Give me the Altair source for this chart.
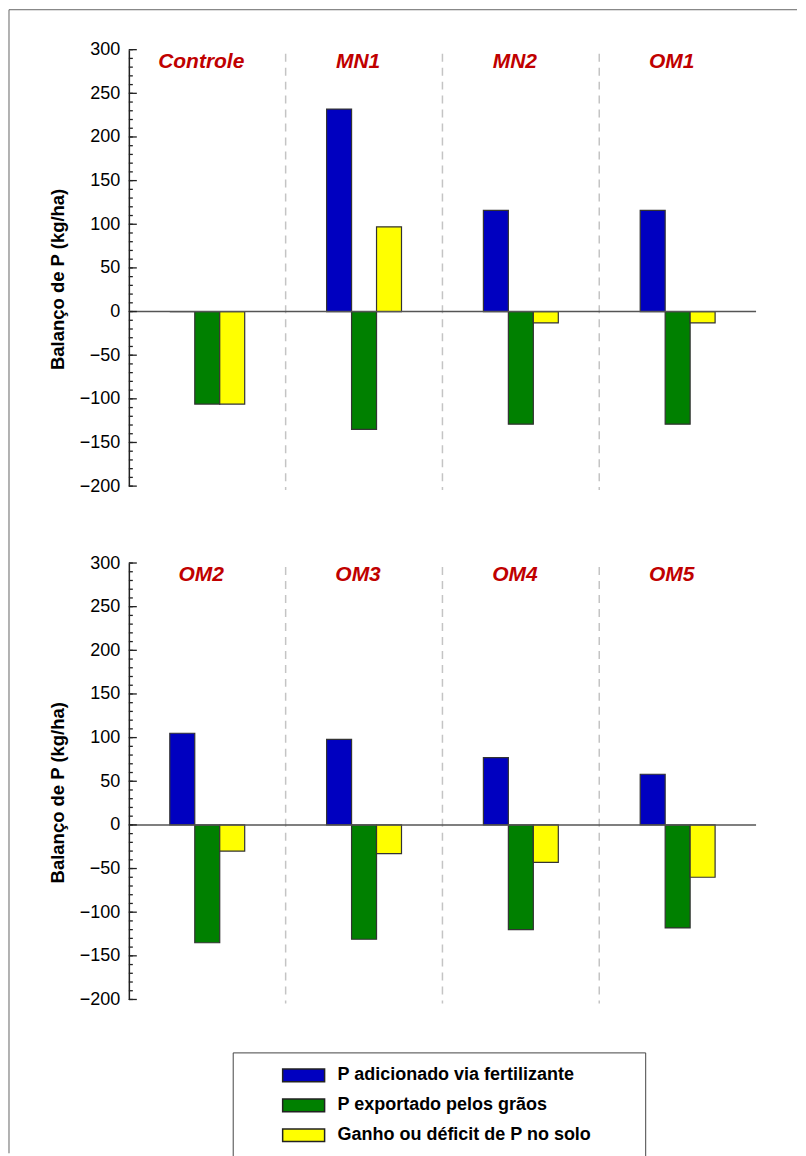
import altair as alt
import pandas as pd

# ---- data ----
groups_top = ["Controle", "MN1", "MN2", "OM1"]
groups_bottom = ["OM2", "OM3", "OM4", "OM5"]
series = ["P adicionado via fertilizante", "P exportado pelos grãos", "Ganho ou déficit de P no solo"]
colors = ["#0000C0", "#008000", "#FFFF00"]

added_top = [0, 232, 116, 116]
exported_top = [-106, -135, -129, -129]
balance_top = [-106, 97, -13, -13]

added_bottom = [105, 98, 77, 58]
exported_bottom = [-135, -131, -120, -118]
balance_bottom = [-30, -33, -43, -60]

y_major = list(range(-200, 301, 50))
y_minor = list(range(-200, 301, 10))

FONT = "Liberation Sans"
W, H = 628, 437
# empty slots on each side of the three bars inside a group
offset_domain = ["_pad_left"] + series + ["_pad_right"]

yscale = alt.Scale(domain=[-200, 300], nice=False, zero=False)
yaxis = alt.Axis(values=y_major, ticks=False, tickSize=0, grid=False,
                 domainColor="#222", domainWidth=1.5,
                 labelFont=FONT, labelFontSize=18, labelColor="black",
                 labelPadding=9,
                 title="Balanço de P (kg/ha)", titleFont=FONT,
                 titleFontSize=18.5, titleFontWeight="bold",
                 titleColor="black", titlePadding=12, titleY=H / 2 + 11)


def Y(field):
    return alt.Y(field, scale=yscale, axis=yaxis, title="Balanço de P (kg/ha)")


def panel(groups, added, exported, balance, show_legend, frame):
    df = pd.DataFrame({
        "grupo": groups * 3,
        "serie": [series[0]] * 4 + [series[1]] * 4 + [series[2]] * 4,
        "valor": added + exported + balance,
    })
    xscale = alt.Scale(domain=groups, paddingInner=0, paddingOuter=0)
    x = alt.X("grupo:N", scale=xscale, axis=None)

    if show_legend:
        legend = alt.Legend(
            orient="none", legendX=104, legendY=490,
            # hidden title on the right only widens the framed box
            title="legenda", titleOrient="right", titleOpacity=0,
            titleFont=FONT, titleFontSize=10.5, titleFontWeight="bold", titlePadding=2,
            strokeColor="#444", fillColor="white", padding=11.5,
            symbolType="M-2,-0.6H2V0.6H-2Z", symbolSize=441,
            symbolStrokeColor="#222", symbolStrokeWidth=1.5,
            symbolOffset=48, labelOffset=22.5,
            labelFont=FONT, labelFontSize=18, labelFontWeight="bold",
            labelColor="black", labelLimit=700, rowPadding=9,
        )
    else:
        legend = None

    bars = alt.Chart(df).mark_bar(stroke="#333", strokeWidth=1.2).encode(
        x=x,
        xOffset=alt.XOffset("serie:N", scale=alt.Scale(domain=offset_domain, paddingInner=0, paddingOuter=0.64)),
        y=Y("valor:Q"),
        color=alt.Color("serie:N", scale=alt.Scale(domain=series, range=colors), legend=legend),
    )

    sep = alt.Chart(pd.DataFrame({"grupo": groups[1:]})).mark_rule(
        color="#c4c4c4", strokeWidth=1.5, strokeDash=[8, 6]
    ).encode(
        x=alt.X("grupo:N", scale=xscale, axis=None, bandPosition=0),
        y=alt.value(4), y2=alt.value(441),
    )

    labels = alt.Chart(pd.DataFrame({"grupo": groups})).mark_text(
        font=FONT, fontSize=21, fontWeight="bold", fontStyle="italic",
        color="#C00000", baseline="alphabetic", dx=-6
    ).encode(x=x, y=alt.value(18), text="grupo:N")

    zero = alt.Chart(pd.DataFrame({"valor": [0]})).mark_rule(color="#555", strokeWidth=1.5).encode(
        y=Y("valor:Q")
    )

    minor = alt.Chart(pd.DataFrame({"valor": y_minor})).mark_rule(color="#222", strokeWidth=1.3).encode(
        y=Y("valor:Q"), x=alt.value(0), x2=alt.value(4)
    )
    major = alt.Chart(pd.DataFrame({"valor": y_major})).mark_rule(color="#222", strokeWidth=1.3).encode(
        y=Y("valor:Q"), x=alt.value(0), x2=alt.value(8)
    )

    layers = [sep, bars, zero, minor, major, labels]
    if frame:
        one = pd.DataFrame({"k": [0]})
        top_line = alt.Chart(one).mark_rule(color="#666", strokeWidth=1).encode(
            x=alt.value(-120), x2=alt.value(669), y=alt.value(-40)
        )
        left_line = alt.Chart(one).mark_rule(color="#666", strokeWidth=1).encode(
            x=alt.value(-120), y=alt.value(-40), y2=alt.value(1105)
        )
        layers += [top_line, left_line]
    return alt.layer(*layers).properties(width=W, height=H)


top = panel(groups_top, added_top, exported_top, balance_top, False, True)
bottom = panel(groups_bottom, added_bottom, exported_bottom, balance_bottom, True, False)

chart = alt.vconcat(top, bottom, spacing=77, bounds="flush").resolve_legend(
    color="independent"
).properties(padding=0, background="white").configure_view(stroke=None)

chart.save("out.html", embed_options={"renderer": "svg", "actions": False})
